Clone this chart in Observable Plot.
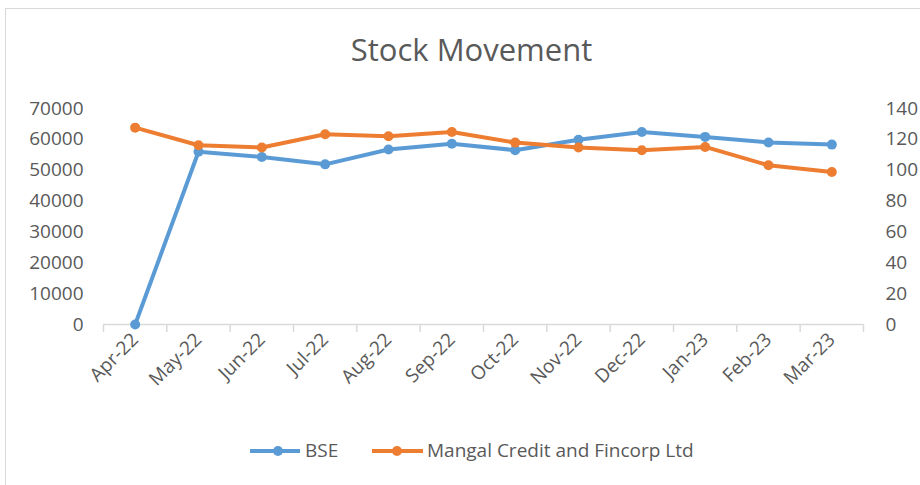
<!DOCTYPE html>
<html>
<head>
<meta charset="utf-8">
<script src="https://cdn.jsdelivr.net/npm/d3@7"></script>
<script src="https://cdn.jsdelivr.net/npm/@observablehq/plot@0.6"></script>
<style>
  body { margin: 0; background: #fff; font-family: "Open Sans", sans-serif; color: #595959; }
  #wrap { position: relative; width: 920px; height: 485px; overflow: hidden; background: #fff; }
  #frame { position: absolute; left: 5px; top: 8px; width: 940px; height: 500px;
           border-left: 1.5px solid #d9d9d9; border-top: 1.5px solid #d9d9d9; }
  #title { position: absolute; left: 0; width: 943px; top: 34px; text-align: center;
           font-size: 31px; line-height: 31px; white-space: nowrap; }
  #chart { position: absolute; left: 0; top: 90px; }
  .leg { position: absolute; top: 439px; height: 22px; line-height: 22px; font-size: 19px; white-space: nowrap; }
  .legsw { position: absolute; top: 440px; }
</style>
</head>
<body>
<div id="wrap">
  <div id="frame"></div>
  <div id="title">Stock Movement</div>
  <div id="chart"></div>
  <svg class="legsw" style="left:250px" width="52" height="22"><line x1="0" y1="11" x2="50" y2="11" stroke="#5B9BD5" stroke-width="4"/><circle cx="28" cy="11" r="5" fill="#5B9BD5"/></svg>
  <div class="leg" style="left:305px" id="leg1"></div>
  <svg class="legsw" style="left:372px" width="52" height="22"><line x1="0" y1="11" x2="51" y2="11" stroke="#ED7D31" stroke-width="4"/><circle cx="25" cy="11" r="5" fill="#ED7D31"/></svg>
  <div class="leg" style="left:427px" id="leg2"></div>
</div>
<script>
const months = ["Apr-22","May-22","Jun-22","Jul-22","Aug-22","Sep-22","Oct-22","Nov-22","Dec-22","Jan-23","Feb-23","Mar-23"];
const seriesNames = ["BSE", "Mangal Credit and Fincorp Ltd"];
const bse = [0, 56000, 54300, 51900, 56700, 58600, 56500, 59900, 62400, 60800, 59000, 58300];
const mangal = [127.6, 116.2, 114.7, 123.3, 122.0, 124.8, 117.9, 114.7, 112.9, 115.1, 103.2, 98.8];
const leftTicks = [0, 10000, 20000, 30000, 40000, 50000, 60000, 70000];
const rightTicks = [0, 20, 40, 60, 80, 100, 120, 140];

const RATIO = leftTicks[leftTicks.length - 1] / rightTicks[rightTicks.length - 1];
const blue = "#5B9BD5", orange = "#ED7D31";

const rows = months.map((m, i) => ({i, month: m, bse: bse[i], mangal: mangal[i]}));

document.getElementById("leg1").textContent = seriesNames[0];
document.getElementById("leg2").textContent = seriesNames[1];

const chart = Plot.plot({
  width: 920,
  height: 325,
  marginTop: 18,
  marginBottom: 91,
  marginLeft: 103,
  marginRight: 57,
  x: {type: "linear", domain: [-0.5, months.length - 0.5]},
  y: {domain: [leftTicks[0], leftTicks[leftTicks.length - 1]]},
  style: {fontFamily: "Open Sans, sans-serif", fontSize: "19px", color: "#595959", background: "transparent"},
  marks: [
    Plot.axisY({ticks: leftTicks, tickSize: 0, tickPadding: 20, tickFormat: d3.format("d"), label: null}),
    Plot.axisY({anchor: "right", ticks: rightTicks.map(v => v * RATIO), tickFormat: d => d3.format("d")(d / RATIO), tickSize: 0, tickPadding: 22, label: null}),
    Plot.axisX({ticks: d3.range(-0.5, months.length, 1), tickFormat: () => "", tickSize: 8, stroke: "#d9d9d9", strokeWidth: 1.5, strokeOpacity: 1, label: null}),
    Plot.ruleY([0], {stroke: "#d9d9d9", strokeWidth: 1.5}),
    Plot.axisX({ticks: d3.range(months.length), tickFormat: i => months[i], tickSize: 0, tickPadding: 12, tickRotate: -45, label: null}),
    Plot.line(rows, {x: "i", y: "bse", stroke: blue, strokeWidth: 4}),
    Plot.dot(rows, {x: "i", y: "bse", r: 5, fill: blue}),
    Plot.line(rows, {x: "i", y: d => d.mangal * RATIO, stroke: orange, strokeWidth: 4}),
    Plot.dot(rows, {x: "i", y: d => d.mangal * RATIO, r: 5, fill: orange})
  ]
});
document.getElementById("chart").appendChild(chart);
</script>
</body>
</html>
